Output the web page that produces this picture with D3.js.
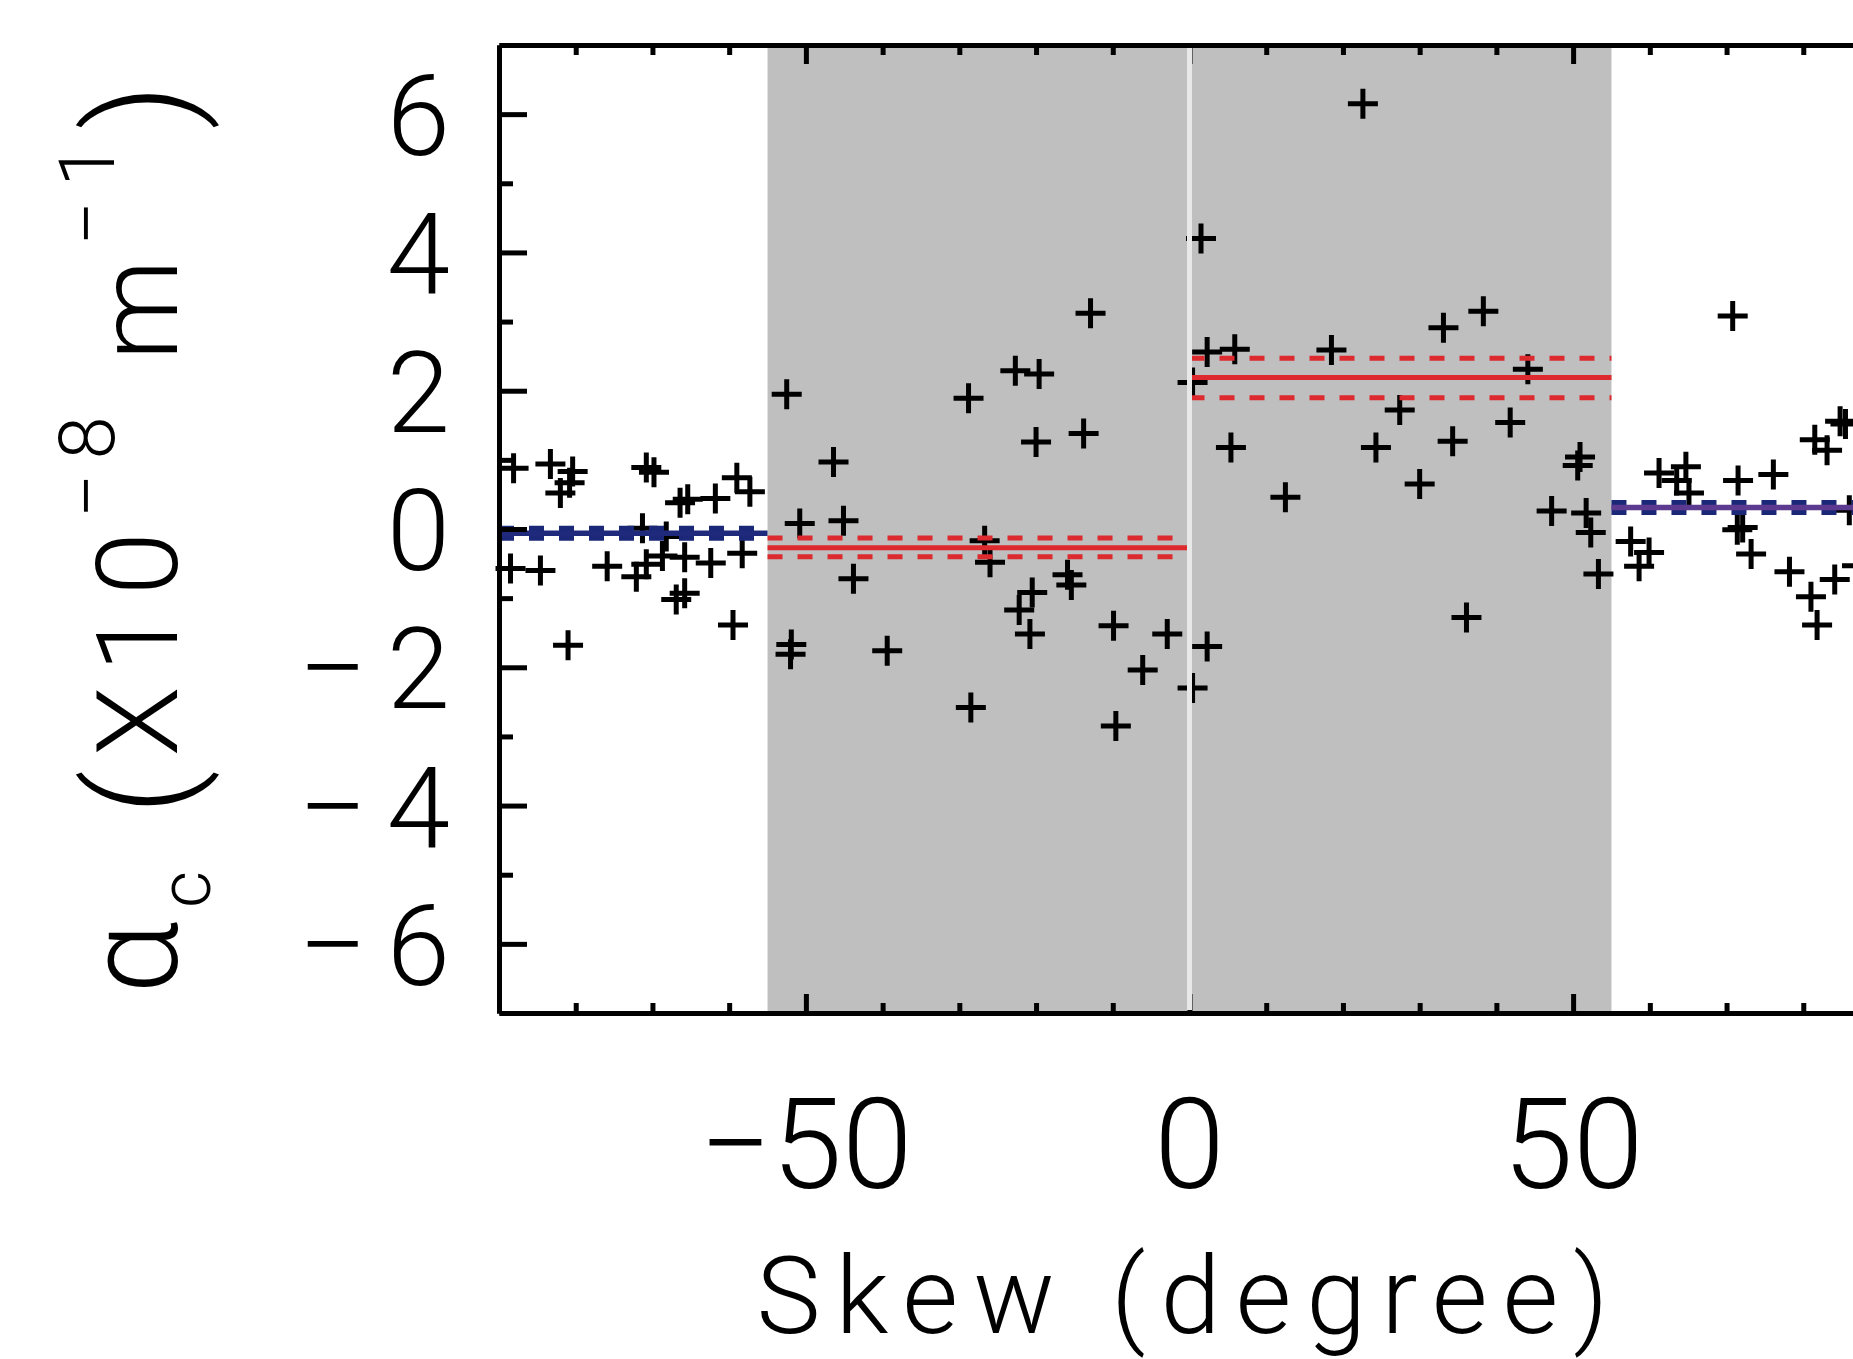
<!DOCTYPE html>
<html>
<head>
<meta charset="utf-8">
<script src="https://cdn.jsdelivr.net/npm/d3@7"></script>
<style>
  html, body { margin: 0; padding: 0; background: #fff; }
  svg { display: block; }
  text { font-family: "Roboto", "DejaVu Sans", sans-serif; font-weight: 300; fill: #000; }
</style>
</head>
<body>
<div id="chart"></div>
<script>
// skew angle (degree) and alpha_c (x1e-8 1/m)
const skew = [
  -88.1, -83.3, -80.4, -80.8, -82.0, -70.8, -69.8, -66.4, -65.4, -61.8, -59.0, -57.3, -71.3, -68.2,
  -88.5, -84.6, -75.9, -72.1, -70.8, -68.7, -65.8, -62.4, -58.3, -66.9, -65.8, -59.5, -81.0,
  -52.5, -28.8, -46.4, -50.8, -45.1, -43.8, -51.9, -52.0, -39.4, -28.5, -26.7, -26.0,
  -12.9, -22.7, -19.6, -20.0, -13.8, -15.9, -15.4, -20.5, -22.2, -20.8, -9.9, -2.9, -6.1, -9.6,
  22.6, 1.5, 2.3, 5.9, 18.5, 0.4, 5.4, 12.5, 24.3, 27.4, 2.3, 0.4,
  33.1, 38.3, 44.1, 41.8, 34.3, 30.0, 50.9, 50.6, 47.2, 51.7, 52.3, 53.3, 36.1,
  70.8, 84.8, 85.5, 81.5, 83.1, 61.2, 64.7, 63.5, 65.1, 71.5, 76.1, 86.0, 71.4, 72.1,
  73.2, 57.5, 59.9, 58.6, 78.2, 81.0, 84.1, 87.0, 81.8
];
const alpha = [
  0.88, 0.94, 0.83, 0.67, 0.52, 0.89, 0.82, 0.38, 0.43, 0.44, 0.74, 0.54, 0.01, -0.11,
  -0.57, -0.60, -0.54, -0.69, -0.51, -0.39, -0.41, -0.49, -0.35, -1.02, -0.93, -1.39, -1.68,
  1.95, 1.89, 0.97, 0.08, 0.12, -0.72, -1.67, -1.81, -1.76, -2.58, -0.17, -0.48,
  3.12, 2.29, 2.24, 1.26, 1.38, -0.66, -0.81, -0.92, -1.17, -1.52, -1.40, -1.52, -2.04, -2.85,
  6.15, 4.20, 2.56, 2.60, 2.59, 2.12, 1.18, 0.46, 1.18, 1.72, -1.70, -2.30,
  2.91, 3.15, 2.31, 1.54, 1.27, 0.65, 1.04, 0.92, 0.26, 0.23, -0.05, -0.65, -1.28,
  3.08, 1.56, 1.52, 1.29, 1.14, 0.81, 0.90, 0.70, 0.52, 0.70, 0.79, 0.27, -0.01, 0.02,
  -0.36, -0.18, -0.34, -0.54, -0.62, -0.98, -0.73, -0.53, -1.39
];

// shaded skew band and fitted means per range
const bandRange = [-55, 55];
const fitStart = [-90, -55, 0, 55];
const fitEnd = [-55, 0, 55, 90];
const fitMean = [-0.06, -0.27, 2.19, 0.31];
const fitLow = [null, -0.40, 1.90, null];
const fitHigh = [null, -0.13, 2.47, null];
const fitKind = ["blue", "red", "red", "blue"];
const fitLineColor = ["#1f2a7c", "#dc2a2e", "#dc2a2e", "#5b3a90"];

const xMajor = [-50, 0, 50];
const xMinor = [-80, -70, -60, -40, -30, -20, -10, 10, 20, 30, 40, 60, 70, 80];
const yMajor = [-6, -4, -2, 0, 2, 4, 6];
const yMinor = [-5, -3, -1, 1, 3, 5];

const W = 1853, H = 1359;
const svg = d3.select("#chart").append("svg")
  .attr("width", W)
  .attr("height", H);

const x = d3.scaleLinear().domain([-90, 90]).range([499, 1880]);
const y = d3.scaleLinear().domain([-7, 7]).range([1013, 45]);

// grey band
svg.append("rect")
  .attr("x", x(bandRange[0]))
  .attr("y", y(7))
  .attr("width", x(bandRange[1]) - x(bandRange[0]))
  .attr("height", y(-7) - y(7))
  .attr("fill", "#bebfbe");

// data crosses
const points = skew.map((s, i) => ({ s: s, a: alpha[i] }));
svg.append("g")
  .selectAll("path")
  .data(points)
  .enter()
  .append("path")
    .attr("transform", d => `translate(${x(d.s)},${y(d.a)})`)
    .attr("d", "M-15,0H15M0,-15V15")
    .attr("stroke", "#000")
    .attr("stroke-width", 5)
    .attr("fill", "none");

// fitted lines
const fits = svg.append("g");
fitStart.forEach((s0, i) => {
  const x0 = x(s0), x1 = x(fitEnd[i]);
  if (fitKind[i] === "blue") {
    fits.append("line")
      .attr("x1", x0).attr("x2", x1)
      .attr("y1", y(fitMean[i])).attr("y2", y(fitMean[i]))
      .attr("stroke", "#1b2878")
      .attr("stroke-width", 15)
      .attr("stroke-dasharray", "15,15");
    fits.append("line")
      .attr("x1", x0).attr("x2", x1)
      .attr("y1", y(fitMean[i])).attr("y2", y(fitMean[i]))
      .attr("stroke", fitLineColor[i])
      .attr("stroke-width", 5.5);
  } else {
    fits.append("line")
      .attr("x1", x0).attr("x2", x1)
      .attr("y1", y(fitMean[i])).attr("y2", y(fitMean[i]))
      .attr("stroke", fitLineColor[i])
      .attr("stroke-width", 5);
    [fitLow[i], fitHigh[i]].forEach(v => {
      fits.append("line")
        .attr("x1", x0).attr("x2", x1)
        .attr("y1", y(v)).attr("y2", y(v))
        .attr("stroke", fitLineColor[i])
        .attr("stroke-width", 5)
        .attr("stroke-dasharray", "15,15");
    });
  }
});

// axes: ticks point inward
function styleAxis(g) {
  g.selectAll("path.domain").attr("stroke", "#000").attr("stroke-width", 5);
  g.selectAll(".tick line").attr("stroke", "#000").attr("stroke-width", 5);
  g.selectAll(".tick text").remove();
}

svg.append("g").attr("transform", `translate(0,${y(-7)})`)
  .call(d3.axisBottom(x).tickValues(xMajor).tickSize(-19).tickSizeOuter(0)).call(styleAxis);
svg.append("g").attr("transform", `translate(0,${y(-7)})`)
  .call(d3.axisBottom(x).tickValues(xMinor).tickSize(-10).tickSizeOuter(0)).call(styleAxis);
svg.append("g").attr("transform", `translate(0,${y(7)})`)
  .call(d3.axisTop(x).tickValues(xMajor).tickSize(-19).tickSizeOuter(0)).call(styleAxis);
svg.append("g").attr("transform", `translate(0,${y(7)})`)
  .call(d3.axisTop(x).tickValues(xMinor).tickSize(-10).tickSizeOuter(0)).call(styleAxis);
svg.append("g").attr("transform", `translate(${x(-90)},0)`)
  .call(d3.axisLeft(y).tickValues(yMajor).tickSize(-28).tickSizeOuter(0)).call(styleAxis);
svg.append("g").attr("transform", `translate(${x(-90)},0)`)
  .call(d3.axisLeft(y).tickValues(yMinor).tickSize(-14).tickSizeOuter(0)).call(styleAxis);

// white line at zero skew
svg.append("line")
  .attr("x1", x(0)).attr("x2", x(0))
  .attr("y1", y(7) + 3).attr("y2", y(-7) - 3)
  .attr("stroke", "#e8e8e8")
  .attr("stroke-width", 5);

// tick labels
const fs = 114;
const xLab = svg.append("g");
xLab.selectAll("text")
  .data(xMajor)
  .enter()
  .append("text")
    .attr("x", d => x(d))
    .attr("y", 1188)
    .attr("text-anchor", "middle")
    .style("font-size", "127px")
    .text(d => d < 0 ? "\u2212" + Math.abs(d) : d);

const yLab = svg.append("g");
yLab.selectAll("text.num")
  .data(yMajor)
  .enter()
  .append("text")
    .attr("class", "num")
    .attr("x", 450)
    .attr("y", d => y(d) + 0.36 * fs)
    .attr("text-anchor", "end")
    .style("font-size", fs + "px")
    .text(d => Math.abs(d));
yLab.selectAll("text.minus")
  .data(yMajor.filter(d => d < 0))
  .enter()
  .append("text")
    .attr("class", "minus")
    .attr("x", 298)
    .attr("y", d => y(d) + 0.36 * fs)
    .attr("textLength", 70)
    .attr("lengthAdjust", "spacingAndGlyphs")
    .style("font-size", fs + "px")
    .text("\u2212");

// axis titles
svg.append("text")
  .attr("x", 1190)
  .attr("y", 1333)
  .attr("text-anchor", "middle")
  .style("font-size", "108px")
  .style("letter-spacing", "15px")
  .text("Skew (degree)");

const yt = svg.append("text")
  .attr("transform", "translate(177,532) rotate(-90)")
  .attr("text-anchor", "middle")
  .style("font-size", "114px")
  .style("letter-spacing", "14px");
yt.append("tspan").style("font-size", "128px").text("\u03b1");
yt.append("tspan").attr("dy", 33).style("font-size", "72px").text("c");
yt.append("tspan").attr("dy", -33).text(" ");
yt.append("tspan").attr("dy", 10).style("font-size", "140px").text("(");
yt.append("tspan").attr("dy", -10).text("X10");
yt.append("tspan").attr("dy", -63).style("font-size", "78px").text("\u22128");
yt.append("tspan").attr("dy", 63).text(" m");
yt.append("tspan").attr("dy", -63).style("font-size", "78px").text("\u22121");
yt.append("tspan").attr("dy", 73).style("font-size", "140px").text(")");
</script>
</body>
</html>
